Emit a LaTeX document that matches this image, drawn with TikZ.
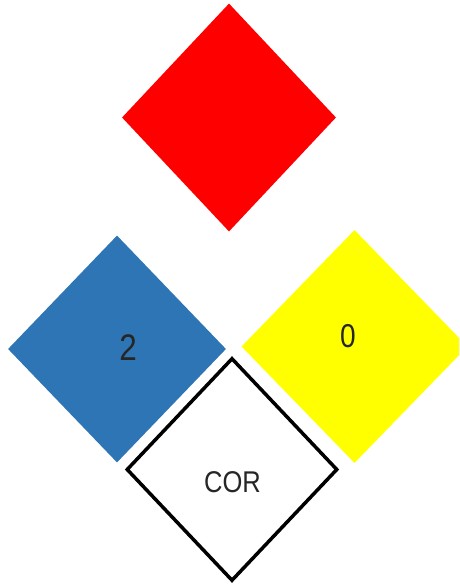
\documentclass[tikz,border=0pt]{standalone}
\usepackage{fontspec}
\setmainfont{Liberation Sans}
\usepackage{tikz}
\usetikzlibrary{shapes.geometric}
\definecolor{hazblue}{HTML}{2E75B6}
\definecolor{hazred}{HTML}{FF0000}
\definecolor{hazyellow}{HTML}{FFFF00}

\begin{document}
\begin{tikzpicture}[x=1pt,y=-1pt]
    \tikzstyle{hazard}=[shape=diamond,inner sep=0pt,minimum width=214pt,minimum height=228pt]
    \tikzstyle{rating}=[text=black!85,xscale=0.85,inner sep=0pt]

    \useasboundingbox (0,0) rectangle (459,584);
    \begin{scope}
    \clip (0,0) rectangle (459,584);
    \node[hazard, fill=hazred] (F) at (229,117.5) {};
    \node[hazard, fill=hazblue, minimum width=218pt, minimum height=227pt] (H) at (117,349) {};
    \node[hazard, fill=hazyellow, minimum width=226pt, minimum height=233pt] (R) at (354.5,346.5) {};
    \node[hazard, draw=black, fill=white, line width=3.5pt, minimum width=211pt, minimum height=223pt] (S) at (232,469.5) {};
    \end{scope}

    \node[rating, font=\fontsize{37}{37}\selectfont] (Hn) at (128,348) {2};
    \node[rating, font=\fontsize{33}{33}\selectfont] (Rn) at (348,336) {0};
    \node[rating, font=\fontsize{30}{30}\selectfont] (Sn) at (232.5,482) {COR};
\end{tikzpicture}
\end{document}
